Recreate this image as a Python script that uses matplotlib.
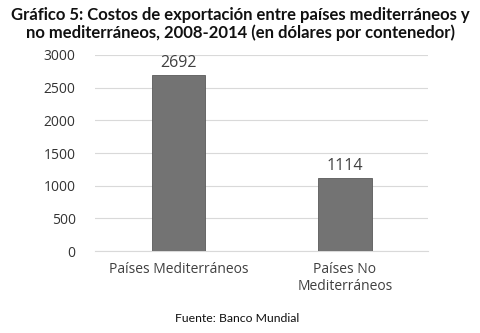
import matplotlib
matplotlib.use("Agg")
import matplotlib.pyplot as plt

# data
categories = ["Países Mediterráneos", "Países No\nMediterráneos"]
values = [2692, 1114]
yticks = [0, 500, 1000, 1500, 2000, 2500, 3000]

title = ("Gráfico 5: Costos de exportación entre países mediterráneos y\n"
         "no mediterráneos, 2008-2014 (en dólares por contenedor)")
source = "Fuente: Banco Mundial"

fig = plt.figure(figsize=(4.8, 3.33), dpi=100)
ax = fig.add_axes([0.198, 0.246, 0.694, 0.589])

x = range(len(categories))
bars = ax.bar(x, values, width=0.32, color="#737373", edgecolor="#5a5a5a", linewidth=0.6, zorder=3)

for b, v in zip(bars, values):
    ax.text(b.get_x() + b.get_width() / 2, v + 70, str(v), ha="center", va="bottom",
            fontsize=11.5, color="#404040", family="Open Sans")

ax.set_xlim(-0.5, 1.5)
ax.set_ylim(0, 3000)
ax.set_yticks(yticks)
ax.set_xticks(list(x))
ax.set_xticklabels(categories, fontsize=10, color="#404040", family="Open Sans")
for lab in ax.get_yticklabels():
    lab.set_fontsize(10)
    lab.set_color("#333333")
    lab.set_family("Open Sans")

ax.yaxis.grid(True, color="#d9d9d9", linewidth=0.8, zorder=0)
for s in ["top", "right", "left"]:
    ax.spines[s].set_visible(False)
ax.spines["bottom"].set_color("#d9d9d9")
ax.tick_params(axis="both", length=0, pad=8)
ax.tick_params(axis="y", pad=14)

fig.text(0.5, 0.98, title, ha="center", va="top", fontsize=12, fontweight="bold",
         color="#111111", family="Lato", linespacing=1.15)
fig.text(0.495, 0.045, source, ha="center", va="center", fontsize=8.8, color="#111111", family="Lato")

fig.savefig("out.png", dpi=100)
